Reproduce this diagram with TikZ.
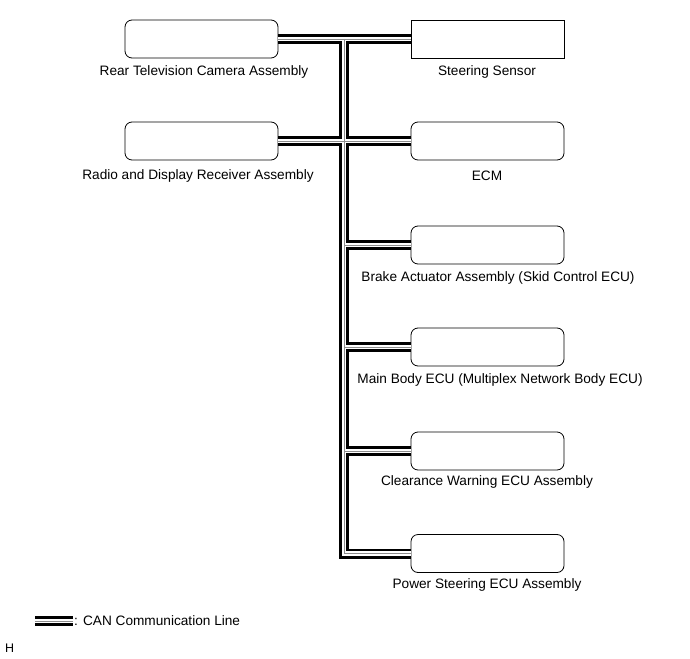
\documentclass[tikz,border=0pt]{standalone}
\usepackage{fontspec}
\setmainfont{Liberation Sans}
\usetikzlibrary{positioning}

\tikzset{
  ecubox/.style={draw, line width=0.8bp, rounded corners=7bp, minimum width=153bp, minimum height=38bp, inner sep=0},
  sensbox/.style={ecubox, sharp corners},
  lbl/.style={font=\fontsize{13.7}{15}\selectfont, inner sep=0},
  canouter/.style={line width=10bp, black, line join=miter},
  caninner/.style={line width=4.2bp, white, line join=miter},
  cancore/.style={line width=0.7bp, black!45, line join=miter}
}

\begin{document}
\begin{tikzpicture}[x=1bp, y=-1bp]
    \useasboundingbox (0,0) rectangle (690,659);

    % left side
    \node[ecubox] (cam) at (201.5, 39) {};
    \node[ecubox] (radio) at (201.5, 141) {};
    \node[lbl] (camL) at (204, 72) {Rear Television Camera Assembly};
    \node[lbl] (radioL) at (198, 176) {Radio and Display Receiver Assembly};

    % right side
    \node[sensbox] (steer) at (487.5, 39) {};
    \node[ecubox] (ecm) at (487.5, 141) {};
    \node[ecubox] (brake) at (487.5, 245) {};
    \node[ecubox] (body) at (487.5, 347) {};
    \node[ecubox] (clear) at (487.5, 451) {};
    \node[ecubox] (pwr) at (487.5, 553.5) {};

    \node[lbl] (steerL) at (487, 72) {Steering Sensor};
    \node[lbl] (ecmL) at (487, 176) {ECM};
    \node[lbl] (brakeL) at (498, 278) {Brake Actuator Assembly (Skid Control ECU)};
    \node[lbl] (bodyL) at (500, 380) {Main Body ECU (Multiplex Network Body ECU)};
    \node[lbl] (clearL) at (487, 482) {Clearance Warning ECU Assembly};
    \node[lbl] (pwrL) at (487, 585) {Power Steering ECU Assembly};

    % bus junctions
    \coordinate (jtop) at (344, 39);
    \coordinate (jbrk) at (344, 245);
    \coordinate (jbody) at (344, 347);
    \coordinate (jclr) at (344, 451);
    \coordinate (jbot) at (344, 553.5);

    % legend
    \coordinate (lgA) at (35, 621);
    \coordinate (lgB) at (73, 621);
    \node[lbl, anchor=west] (lgL) at (74, 621) {: CAN Communication Line};
    \node[lbl, anchor=west, font=\fontsize{12.5}{14}\selectfont] (hmark) at (5, 648) {H};

    % CAN lines
    \foreach \layer in {canouter, caninner, cancore} {
        \draw[\layer] (cam.east) -- (steer.west);
        \draw[\layer] (radio.east) -- (ecm.west);
        \draw[\layer] (jtop) -- (jbot) -- (pwr.west);
        \draw[\layer] (jbrk) -- (brake.west);
        \draw[\layer] (jbody) -- (body.west);
        \draw[\layer] (jclr) -- (clear.west);
        \draw[\layer] (lgA) -- (lgB);
    }
\end{tikzpicture}
\end{document}
